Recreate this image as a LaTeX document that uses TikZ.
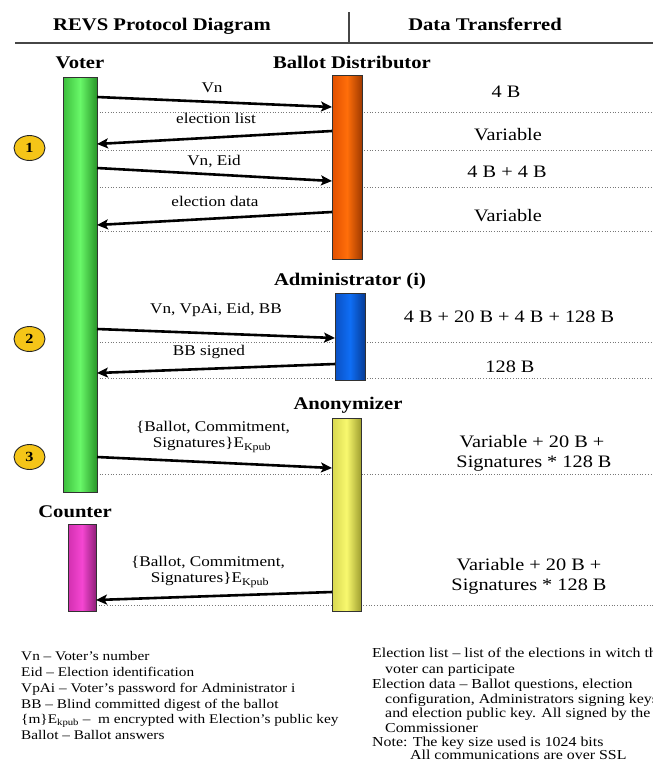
\documentclass[tikz,border=0pt]{standalone}
\usepackage{fontspec}
\setmainfont{Liberation Serif}[FakeStretch=1.16]
\usetikzlibrary{arrows.meta,shapes.geometric}

% bar shades: edge, highlight, dark edge
\definecolor{grnL}{RGB}{60,190,60}
\definecolor{grnM}{RGB}{105,248,105}
\definecolor{grnR}{RGB}{40,150,40}
\definecolor{orgL}{RGB}{225,80,0}
\definecolor{orgM}{RGB}{255,110,10}
\definecolor{orgR}{RGB}{160,58,0}
\definecolor{bluL}{RGB}{10,80,195}
\definecolor{bluM}{RGB}{15,110,245}
\definecolor{bluR}{RGB}{6,60,150}
\definecolor{yelL}{RGB}{215,215,80}
\definecolor{yelM}{RGB}{248,248,110}
\definecolor{yelR}{RGB}{160,160,48}
\definecolor{magL}{RGB}{210,48,176}
\definecolor{magM}{RGB}{245,70,210}
\definecolor{magR}{RGB}{145,32,122}
\definecolor{badgefill}{RGB}{245,197,24}
\definecolor{outline}{RGB}{50,50,50}
\definecolor{rulegray}{RGB}{70,70,70}
\definecolor{dotgray}{RGB}{120,120,120}

\begin{document}
\begin{tikzpicture}[x=1pt,y=-1pt,
  bar/.style={draw=outline, line width=0.8pt, inner sep=0pt, outer sep=0pt, anchor=north west},
  head/.style={font=\fontsize{17.8}{20}\selectfont\bfseries, text height=11.8pt, text depth=0pt, inner sep=0pt},
  datum/.style={font=\fontsize{17.5}{20}\selectfont, text height=11.6pt, text depth=0pt, inner sep=0pt},
  lbl/.style={font=\fontsize{14.8}{17}\selectfont, text height=9.8pt, text depth=0pt, inner sep=0pt},
  legl/.style={font=\fontsize{13.2}{15}\selectfont, text height=8.7pt, text depth=0pt, inner sep=0pt, anchor=west},
  legr/.style={font=\fontsize{13.7}{16}\selectfont, text height=9.1pt, text depth=0pt, inner sep=0pt, anchor=west},
  badge/.style={ellipse, draw=black!85, line width=0.9pt, fill=badgefill, minimum width=31pt, minimum height=25pt, inner sep=0pt,
    font=\fontsize{14}{16}\selectfont\bfseries},
  msg/.style={line width=2.6pt, -{Stealth[length=11pt,width=10pt,inset=2.5pt]}},
  rowline/.style={dotgray, line width=0.7pt, dotted},
  rule/.style={rulegray, line width=1.1pt}
]
\useasboundingbox (0,0) rectangle (653,769);
\clip (0,0) rectangle (653,769);
\fill[white] (0,0) rectangle (653,769);

% header
\node[head] (t1) at (162,25) {REVS Protocol Diagram};
\node[head] (t2) at (485,25) {Data Transferred};
\coordinate (sepTop) at (349,12);
\coordinate (sepBot) at (349,43);
\coordinate (ruleL) at (15,43);
\coordinate (ruleR) at (653,43);
\draw[rule] (sepTop) -- (sepBot);
\draw[rule] (ruleL) -- (ruleR);

% message row separators
\foreach \y in {112,150,187,231,342,378,474}
  \draw[rowline] (97,\y) -- (653,\y);
\draw[rowline] (96,605) -- (653,605);

% actor names
\node[head] (nvoter) at (80,63) {Voter};
\node[head] (nbd) at (352,63) {Ballot Distributor};
\node[head] (nadm) at (350,280) {Administrator (i)};
\node[head] (nanon) at (348,404) {Anonymizer};
\node[head] (ncount) at (75,512) {Counter};

% lifelines
\node[bar, left color=grnL, right color=grnR, middle color=grnM, minimum width=34pt, minimum height=415pt] (voter) at (63,77) {};
\node[bar, left color=orgL, right color=orgR, middle color=orgM, minimum width=30pt, minimum height=184pt] (bd) at (332,75) {};
\node[bar, left color=bluL, right color=bluR, middle color=bluM, minimum width=30pt, minimum height=87pt] (adm) at (335,293) {};
\node[bar, left color=yelL, right color=yelR, middle color=yelM, minimum width=29pt, minimum height=193pt] (anon) at (332,418) {};
\node[bar, left color=magL, right color=magR, middle color=magM, minimum width=28pt, minimum height=87pt] (count) at (68,524) {};

% phase badges
\node[badge] (p1) at (29.5,148) {1};
\node[badge] (p2) at (29.5,339) {2};
\node[badge] (p3) at (29.5,457) {3};

% messages
\draw[msg] ([yshift=-20pt]voter.north east) -- ([yshift=-32pt]bd.north west);
\draw[msg] ([yshift=-56pt]bd.north west) -- ([yshift=-67pt]voter.north east);
\draw[msg] ([yshift=-91pt]voter.north east) -- ([yshift=-106pt]bd.north west);
\draw[msg] ([yshift=-137pt]bd.north west) -- ([yshift=-148pt]voter.north east);
\draw[msg] ([yshift=-252pt]voter.north east) -- ([yshift=-45pt]adm.north west);
\draw[msg] ([yshift=-71pt]adm.north west) -- ([yshift=-296pt]voter.north east);
\draw[msg] ([yshift=-380pt]voter.north east) -- ([yshift=-50pt]anon.north west);
\draw[msg] ([yshift=-174pt]anon.north west) -- ([yshift=-76pt]count.north east);

% message labels
\node[lbl] (m1) at (212,88) {Vn};
\node[lbl] (m2) at (216,119) {election list};
\node[lbl] (m3) at (214,161) {Vn, Eid};
\node[lbl] (m4) at (215,202) {election data};
\node[lbl] (m5) at (216,309) {Vn, VpAi, Eid, BB};
\node[lbl] (m6) at (209,351) {BB signed};
\node[lbl] (m7a) at (213,427) {\{Ballot, Commitment,};
\node[lbl] (m7b) at (212,443) {Signatures\}E\textsubscript{Kpub}};
\node[lbl] (m8a) at (208,562) {\{Ballot, Commitment,};
\node[lbl] (m8b) at (210,578) {Signatures\}E\textsubscript{Kpub}};

% data sizes
\node[datum] (d1) at (506,92) {4 B};
\node[datum] (d2) at (508,135) {Variable};
\node[datum] (d3) at (507,172) {4 B + 4 B};
\node[datum] (d4) at (508,216) {Variable};
\node[datum] (d5) at (509,317) {4 B + 20 B + 4 B + 128 B};
\node[datum] (d6) at (510,367) {128 B};
\node[datum] (d7a) at (532,442) {Variable + 20 B +};
\node[datum] (d7b) at (534,462) {Signatures * 128 B};
\node[datum] (d8a) at (529,565) {Variable + 20 B +};
\node[datum] (d8b) at (529,585) {Signatures * 128 B};

% abbreviations
\node[legl] (g1) at (21,656) {Vn – Voter’s number};
\node[legl] (g2) at (21,672) {Eid – Election identification};
\node[legl] (g3) at (21,688) {VpAi – Voter’s password for Administrator i};
\node[legl] (g4) at (21,704) {BB – Blind committed digest of the ballot};
\node[legl] (g5) at (21,719) {\{m\}E\textsubscript{kpub} –\ \ m encrypted with Election’s public key};
\node[legl] (g6) at (21,735) {Ballot – Ballot answers};

% notes
\node[legr] (h1) at (372,653) {Election list – list of the elections in witch the};
\node[legr] (h2) at (385,668.5) {voter can participate};
\node[legr] (h3) at (372,683.5) {Election data – Ballot questions, election};
\node[legr] (h4) at (385,698.5) {configuration, Administrators signing keys};
\node[legr] (h5) at (385,713) {and election public key. All signed by the};
\node[legr] (h6) at (385,727.5) {Commissioner};
\node[legr] (h7) at (372,741.5) {Note: The key size used is 1024 bits};
\node[legr] (h8) at (410,755) {All communications are over SSL};
\end{tikzpicture}
\end{document}
